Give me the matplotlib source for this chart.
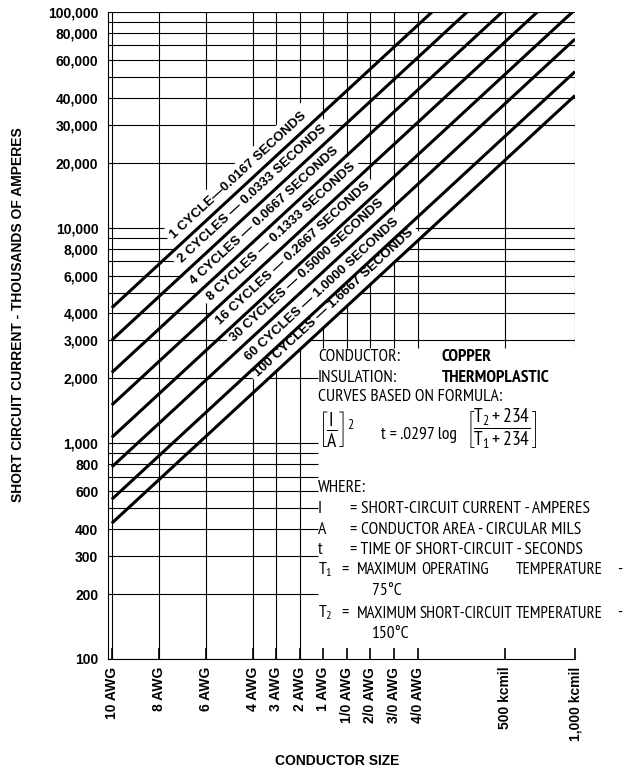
import numpy as np
import matplotlib
matplotlib.use('Agg')

import matplotlib.pyplot as plt
from matplotlib.ticker import NullLocator

# conductor sizes (circular mils) and their names
size_labels = ["10 AWG", "8 AWG", "6 AWG", "4 AWG", "3 AWG", "2 AWG", "1 AWG",
               "1/0 AWG", "2/0 AWG", "3/0 AWG", "4/0 AWG", "500 kcmil", "1,000 kcmil"]
size_cmil = [10380, 16510, 26240, 41740, 52620, 66360, 83690,
             105600, 133100, 167800, 211600, 500000, 1000000]

# labelled current values on the y axis
amp_ticks = [100, 200, 300, 400, 600, 800, 1000, 2000, 3000, 4000, 6000, 8000,
             10000, 20000, 30000, 40000, 60000, 80000, 100000]

curve_labels = ["1 CYCLE\u20140.0167 SECONDS",
                "2 CYCLES \u2014 0.0333 SECONDS",
                "4 CYCLES \u2014 0.0667 SECONDS",
                "8 CYCLES \u2014 0.1333 SECONDS",
                "16 CYCLES \u2014 0.2667 SECONDS",
                "30 CYCLES \u2014 0.5000 SECONDS",
                "60 CYCLES \u2014 1.0000 SECONDS",
                "100 CYCLES \u2014 1.6667 SECONDS"]
# short-circuit current read at 10 AWG and at 1,000 kcmil (amperes)
amps_10awg = [4250, 3010, 2130, 1505, 1065, 777, 550, 426]
amps_1000kcmil = [409700, 289900, 205000, 145000, 102500, 74900, 52900, 41000]

# where along each curve its label sits (circular mils)
label_at = [36100, 41500, 46700, 55300, 62200, 71500, 82100, 92400]

W, H = 635, 769
NARROW = ['PT Sans Narrow', 'DejaVu Sans']
plt.rcParams['font.family'] = ['Liberation Sans', 'DejaVu Sans']
plt.rcParams['mathtext.fontset'] = 'custom'
plt.rcParams['mathtext.rm'] = 'PT Sans Narrow'
plt.rcParams['mathtext.it'] = 'PT Sans Narrow'
plt.rcParams['mathtext.bf'] = 'PT Sans Narrow:bold'
plt.rcParams['mathtext.sf'] = 'PT Sans Narrow'


def ftext(x, y, s, **kw):
    # place text by pixel position on the figure
    kw.setdefault('family', NARROW)
    kw.setdefault('fontsize', 12.6)
    fig.text(x / W, 1 - y / H, s, **kw)


fig = plt.figure(figsize=(W / 100, H / 100), dpi=100)
ax = fig.add_axes([108 / W, 1 - 659 / H, (575 - 108) / W, (659 - 12) / H])
ax.set_xscale('log')
ax.set_yscale('log')
ax.set_xlim(1e4, 1e6)
ax.set_ylim(100, 1e5)

# grid: horizontal lines stop at the notes box below 3,000 A
text_left = 79000
grid_amps = sorted(m * d for d in (100, 1000, 10000) for m in range(1, 10)) + [100000]
for a in grid_amps:
    right = 1e6 if a >= 3000 else text_left
    ax.hlines(a, 1e4, right, color='black', lw=0.8, zorder=1)
for s in size_cmil:
    low = 100 if s < 80000 else 2770
    ax.vlines(s, low, 1e5, color='black', lw=0.8, zorder=1)

# curves
for k in range(len(curve_labels)):
    ax.plot([size_cmil[0], size_cmil[-1]], [amps_10awg[k], amps_1000kcmil[k]],
            color='black', lw=2.2, solid_capstyle='butt', zorder=4)

# labels along the curves
p0 = ax.transData.transform((1e4, 1e3))
p1 = ax.transData.transform((1e5, 1e4))
angle = np.degrees(np.arctan2(p1[1] - p0[1], p1[0] - p0[0]))
for k in reversed(range(len(curve_labels))):
    a = label_at[k]
    i_at = 10 ** np.interp(np.log10(a), np.log10([size_cmil[0], size_cmil[-1]]),
                           np.log10([amps_10awg[k], amps_1000kcmil[k]]))
    ax.annotate(curve_labels[k], xy=(a, i_at), xytext=(0, 16), textcoords='offset pixels',
                rotation=angle, rotation_mode='anchor', ha='center', va='center',
                fontsize=9.6, fontweight='bold',
                bbox=dict(boxstyle='square,pad=0.35', fc='white', ec='none'), zorder=3)

# axes and ticks
for side in ('top', 'right'):
    ax.spines[side].set_visible(False)
for side in ('left', 'bottom'):
    ax.spines[side].set_linewidth(0.8)
ax.set_xticks(size_cmil)
ax.set_xticklabels(size_labels, rotation=90, fontweight='bold', fontsize=10)
ax.set_yticks(amp_ticks)
ax.set_yticklabels([f"{v:,}" for v in amp_ticks], fontweight='bold', fontsize=10)
ax.xaxis.set_minor_locator(NullLocator())
ax.yaxis.set_minor_locator(NullLocator())
ax.tick_params(axis='x', direction='in', length=8, width=1.2, pad=5.5)
ax.tick_params(axis='y', length=0, pad=7)

fig.text(18 / W, 1 - 315 / H, "SHORT CIRCUIT CURRENT - THOUSANDS OF AMPERES",
         rotation=90, ha='center', va='center', fontsize=10, fontweight='bold')
fig.text(337 / W, 1 - 761 / H, "CONDUCTOR SIZE", ha='center', va='center',
         fontsize=10, fontweight='bold')

# notes box
ftext(318, 361.5, "CONDUCTOR:")
ftext(442, 361.5, "COPPER", fontweight='bold')
ftext(318, 382, "INSULATION:")
ftext(442, 382, "THERMOPLASTIC", fontweight='bold')
ftext(318, 401.5, "CURVES BASED ON FORMULA:")
ftext(318, 429, r"$\left[\dfrac{\mathrm{I}}{\mathrm{A}}\right]^2$", va='center', fontsize=14)
ftext(381, 439, "t = .0297 log")
ftext(466, 429, r"$\left[\dfrac{\mathrm{T_2 + 234}}{\mathrm{T_1 + 234}}\right]$",
      va='center', fontsize=14)
ftext(318, 492, "WHERE:")
ftext(318, 513, "I")
ftext(350, 513, "= SHORT-CIRCUIT CURRENT - AMPERES")
ftext(318, 533.5, "A")
ftext(350, 533.5, "= CONDUCTOR AREA - CIRCULAR MILS")
ftext(318, 553.5, "t")
ftext(350, 553.5, "= TIME OF SHORT-CIRCUIT - SECONDS")
ftext(318, 574.5, r"T$_1$")
ftext(341, 574.5, "=")
ftext(357, 574.5, "MAXIMUM", fontsize=12)
ftext(421, 574.5, "OPERATING", fontsize=12)
ftext(603, 574.5, "TEMPERATURE", fontsize=12, ha='right')
ftext(617, 574.5, "-")
ftext(372, 595, "75\u00b0C")
ftext(318, 617.5, r"T$_2$")
ftext(341, 617.5, "=")
ftext(357, 617.5, "MAXIMUM", fontsize=12)
ftext(419, 617.5, "SHORT-CIRCUIT", fontsize=12)
ftext(603, 617.5, "TEMPERATURE", fontsize=12, ha='right')
ftext(617, 617.5, "-")
ftext(372, 637.5, "150\u00b0C")

fig.savefig("out.png", dpi=100)
